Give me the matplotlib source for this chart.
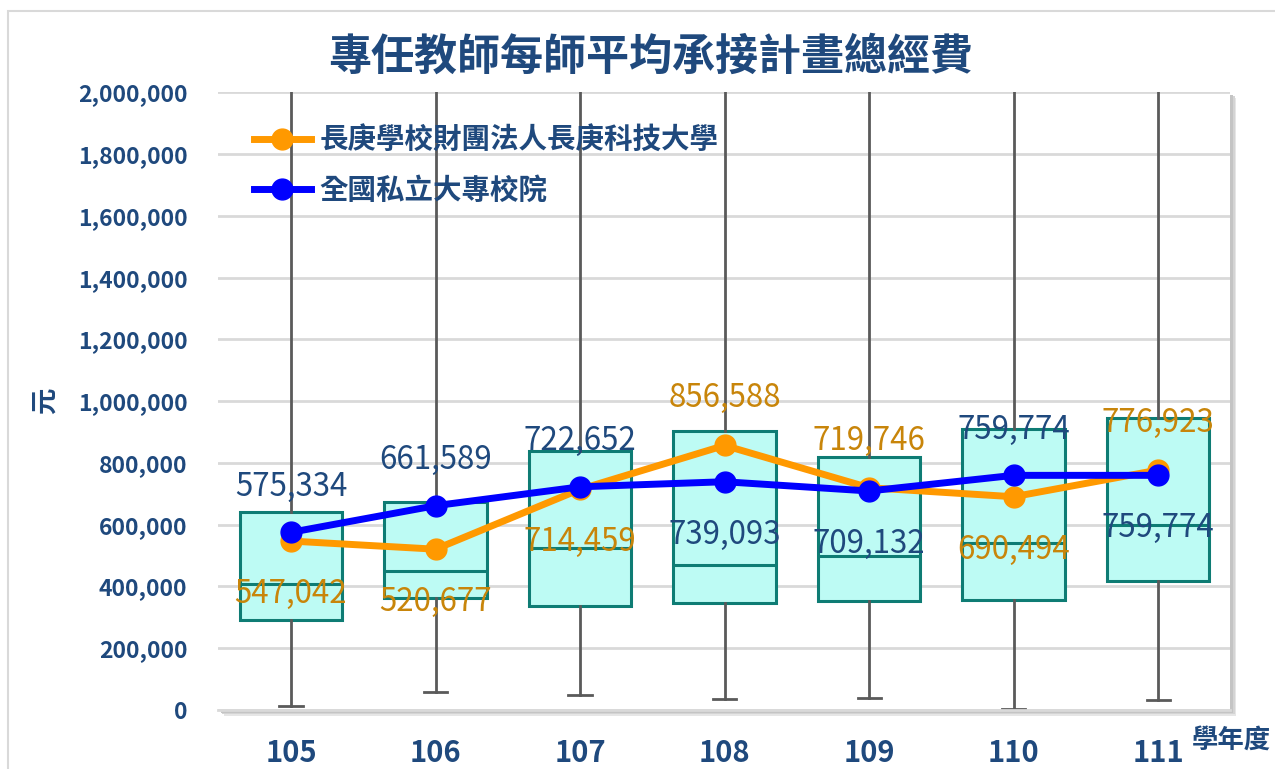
import matplotlib.pyplot as plt
from matplotlib.patches import Rectangle
from matplotlib.ticker import FuncFormatter

plt.rcParams['font.family'] = ['Noto Sans CJK TC', 'DejaVu Sans']

years = ['105', '106', '107', '108', '109', '110', '111']
school = [547042, 520677, 714459, 856588, 719746, 690494, 776923]
national = [575334, 661589, 722652, 739093, 709132, 759774, 759774]

# box plot stats (whisker tops run past the axis)
wh_low = [13000, 58000, 48000, 36000, 39000, 3000, 32000]
q1 = [291000, 362000, 337000, 346000, 353000, 356000, 417000]
med = [408000, 450000, 524000, 469000, 498000, 540000, 599000]
q3 = [641000, 673000, 838000, 903000, 819000, 909000, 945000]
wh_high = [2300000, 2300000, 2300000, 2300000, 2300000, 2300000, 2300000]

# label placement: 1 above the point, -1 below
school_pos = [-1, -1, -1, 1, 1, -1, 1]
national_pos = [1, 1, 1, -1, -1, 1, -1]

navy = '#1F497D'
orange_txt = '#C8850A'

fig = plt.figure(figsize=(12.75, 7.69), dpi=100)
fig.patches.append(Rectangle((0.006, -0.01), 1.0, 0.996, transform=fig.transFigure,
                             fill=False, edgecolor='#d9d9d9', linewidth=1.5))

ax = fig.add_axes([0.171, 0.0767, 0.794, 0.8033])

# soft shadow of the plot area
for k, c in enumerate(['#e6e6e6', '#d4d4d4', '#c4c4c4']):
    off = 0.0045 - k * 0.0012
    fig.patches.append(Rectangle((0.171 + off, 0.0767 - off * 1.66), 0.794, 0.8033,
                                 transform=fig.transFigure, facecolor=c,
                                 edgecolor='none', zorder=0))
ax.set_facecolor('white')
ax.set_zorder(1)

stats = []
for i in range(len(years)):
    stats.append({'whislo': wh_low[i], 'q1': q1[i], 'med': med[i],
                  'q3': q3[i], 'whishi': wh_high[i]})

x = list(range(len(years)))
ax.bxp(stats, positions=x, widths=0.71, showfliers=False, patch_artist=True,
       boxprops=dict(facecolor='#BDFBF4', edgecolor='#0E7C74', linewidth=2.2),
       medianprops=dict(color='#0E7C74', linewidth=2.2),
       whiskerprops=dict(color='#5a5a5a', linewidth=2),
       capprops=dict(color='#5a5a5a', linewidth=2), capwidths=0.16)

ax.plot(x, school, color='#FF9900', linewidth=5, marker='o', markersize=15,
        label='長庚學校財團法人長庚科技大學', zorder=4)
ax.plot(x, national, color='#0000FF', linewidth=5, marker='o', markersize=15,
        label='全國私立大專校院', zorder=5)

for i in x:
    off_s = 34 if school_pos[i] > 0 else -38
    off_n = 33 if national_pos[i] > 0 else -38
    ax.annotate(f'{school[i]:,}', (i, school[i]), xytext=(0, off_s),
                textcoords='offset points', ha='center', va='center',
                fontsize=22.5, color=orange_txt, zorder=6)
    ax.annotate(f'{national[i]:,}', (i, national[i]), xytext=(0, off_n),
                textcoords='offset points', ha='center', va='center',
                fontsize=22.5, color=navy, zorder=6)

ax.set_ylim(0, 2000000)
ax.set_xlim(-0.505, 6.5)
ax.set_yticks(range(0, 2000001, 200000))
ax.yaxis.set_major_formatter(FuncFormatter(lambda v, p: f'{int(v):,}'))
ax.set_xticks(x)
ax.set_xticklabels(years)
ax.tick_params(axis='y', length=0, pad=22, labelsize=16.5, labelcolor=navy)
ax.tick_params(axis='x', length=0, pad=20, labelsize=21, labelcolor=navy)
for lab in ax.get_yticklabels() + ax.get_xticklabels():
    lab.set_fontweight('bold')

ax.yaxis.grid(True, color='#d9d9d9', linewidth=2)
ax.set_axisbelow(True)
for s in ['top', 'right', 'left']:
    ax.spines[s].set_visible(False)
ax.spines['bottom'].set_color('#d9d9d9')
ax.spines['bottom'].set_linewidth(2)

ax.set_ylabel('元', fontsize=19, color=navy, fontweight='bold', labelpad=14)
fig.text(0.51, 0.926, '專任教師每師平均承接計畫總經費', ha='center', va='center',
         fontsize=31, fontweight='bold', color=navy)
fig.text(0.997, 0.038, '學年度', ha='right', va='center', fontsize=19,
         fontweight='bold', color=navy)

leg = ax.legend(loc='upper left', bbox_to_anchor=(0.01, 0.985), frameon=False,
                fontsize=20.5, handlelength=2.0, labelspacing=0.75, handletextpad=0.3)
for t in leg.get_texts():
    t.set_color(navy)
    t.set_fontweight('bold')

fig.savefig('out.png', dpi=100)
